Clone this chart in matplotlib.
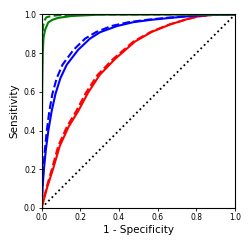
import matplotlib
matplotlib.use('Agg')
import matplotlib.pyplot as plt

# ROC curves (x = 1 - specificity, y = sensitivity)
red_x = [0, 0.03, 0.059, 0.094, 0.14, 0.189, 0.24, 0.30, 0.38, 0.483, 0.57, 0.664, 0.75, 0.81, 0.9, 1]
red_y = [0, 0.11, 0.2, 0.32, 0.42, 0.5, 0.595, 0.687, 0.77, 0.86, 0.91, 0.948, 0.975, 0.99, 0.999, 1]
red_dash_x = [0, 0.027, 0.053, 0.086, 0.131, 0.179, 0.229, 0.289, 0.37, 0.475, 0.565, 0.66, 0.75, 0.81, 0.9, 1]
red_dash_y = [0, 0.11, 0.2, 0.32, 0.42, 0.5, 0.595, 0.687, 0.77, 0.86, 0.91, 0.948, 0.975, 0.99, 0.999, 1]

blue_x = [0, 0.005, 0.012, 0.022, 0.035, 0.052, 0.072, 0.097, 0.13, 0.189, 0.25, 0.302, 0.39, 0.474, 0.564, 0.664, 0.8, 0.9, 1]
blue_y = [0, 0.1, 0.2, 0.3, 0.4, 0.5, 0.59, 0.67, 0.74, 0.817, 0.875, 0.908, 0.94, 0.96, 0.972, 0.982, 0.994, 0.999, 1]
blue_dash_x = [0, 0.004, 0.009, 0.017, 0.027, 0.04, 0.056, 0.078, 0.108, 0.165, 0.225, 0.28, 0.36, 0.45, 0.55, 0.66, 0.8, 0.9, 1]
blue_dash_y = [0, 0.1, 0.2, 0.3, 0.4, 0.5, 0.59, 0.67, 0.74, 0.817, 0.875, 0.908, 0.94, 0.96, 0.973, 0.984, 0.995, 0.999, 1]

green_x = [0, 0.001, 0.003, 0.006, 0.01, 0.018, 0.034, 0.055, 0.085, 0.154, 0.3, 1]
green_y = [0, 0.3, 0.6, 0.8, 0.88, 0.92, 0.958, 0.972, 0.982, 0.992, 0.999, 1]
green_dash_x = [0, 0.001, 0.002, 0.004, 0.008, 0.015, 0.025, 0.05, 0.085, 0.2, 1]
green_dash_y = [0, 0.4, 0.7, 0.88, 0.94, 0.97, 0.985, 0.992, 0.996, 1.0, 1]

ticks = [0.0, 0.2, 0.4, 0.6, 0.8, 1.0]

fig = plt.figure(figsize=(2.49, 2.49), dpi=100)
ax = fig.add_axes([0.167, 0.165, 0.777, 0.777])

lw = 1.5
ax.plot([0, 1], [0, 1], color='k', linestyle=':', linewidth=1.3)
ax.plot(red_x, red_y, color='red', linewidth=lw)
ax.plot(red_dash_x, red_dash_y, color='red', linestyle='--', linewidth=lw)
ax.plot(blue_x, blue_y, color='blue', linewidth=lw)
ax.plot(blue_dash_x, blue_dash_y, color='blue', linestyle='--', linewidth=lw)
ax.plot(green_x, green_y, color='green', linewidth=lw)
ax.plot(green_dash_x, green_dash_y, color='green', linestyle='--', linewidth=lw)

ax.set_xlim(0, 1)
ax.set_ylim(0, 1)
ax.set_xticks(ticks)
ax.set_yticks(ticks)
ax.tick_params(labelsize=5.5, length=2.5, width=0.6, pad=1.5)
for s in ax.spines.values():
    s.set_linewidth(0.8)
ax.set_xlabel('1 - Specificity', fontsize=7.5, labelpad=2)
ax.set_ylabel('Sensitivity', fontsize=7.5, labelpad=3)

fig.savefig('out.png', dpi=100)
